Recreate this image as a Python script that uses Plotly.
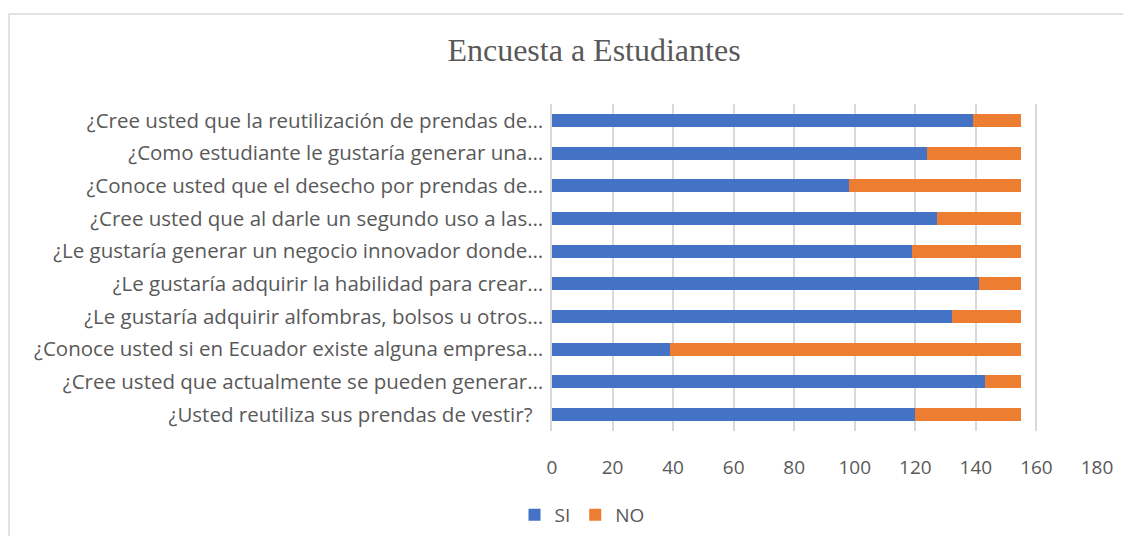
import plotly.graph_objects as go

# Survey questions, listed bottom to top as they appear on the category axis
preguntas = [
    "¿Usted reutiliza sus prendas de vestir?  ",
    "¿Cree usted que actualmente se pueden generar…",
    "¿Conoce usted si en Ecuador existe alguna empresa…",
    "¿Le gustaría adquirir alfombras, bolsos u otros…",
    "¿Le gustaría adquirir la habilidad para crear…",
    "¿Le gustaría generar un negocio innovador donde…",
    "¿Cree usted que al darle un segundo uso a las…",
    "¿Conoce usted que el desecho por prendas de…",
    "¿Como estudiante le gustaría generar una…",
    "¿Cree usted que la reutilización de prendas de…",
]
si = [120, 143, 39, 132, 141, 119, 127, 98, 124, 139]
no = [35, 12, 116, 23, 14, 36, 28, 57, 31, 16]
x_ticks = [0, 20, 40, 60, 80, 100, 120, 140, 160, 180]

BLUE = "#4472C4"
ORANGE = "#ED7D31"
TEXT = "#595959"
GRID = "#D9D9D9"
SANS = "Open Sans, Lato, sans-serif"

# page body keeps its 8px margin, so the figure is sized to fit inside it
W, H = 1115, 528
L, R, T, B = 544, 26, 96, 105
pw, ph = W - L - R, H - T - B

fig = go.Figure()
fig.add_bar(y=preguntas, x=si, name="SI", orientation="h",
            marker=dict(color=BLUE, line=dict(width=0)))
fig.add_bar(y=preguntas, x=no, name="NO", orientation="h",
            marker=dict(color=ORANGE, line=dict(width=0)))

# chart-area frame (only the top and left edges fall inside the window)
fig.add_shape(type="rect", xref="paper", yref="paper",
              x0=(1 - L) / pw, x1=1.2, y0=-0.5, y1=1 + (T - 6) / ph,
              line=dict(color=GRID, width=1.5), layer="below")

fig.update_layout(
    width=W, height=H,
    barmode="stack", bargap=0.6,
    plot_bgcolor="white", paper_bgcolor="white",
    font=dict(family=SANS, size=19, color=TEXT),
    title=dict(text="Encuesta a Estudiantes", x=586 / W, xanchor="center",
               y=1 - 42 / H, yanchor="middle",
               font=dict(family="Liberation Serif, Times New Roman, serif",
                         size=32, color=TEXT)),
    margin=dict(l=L, r=R, t=T, b=B),
    xaxis=dict(range=[0, 180], tickvals=x_ticks, showgrid=True,
               gridcolor=GRID, gridwidth=1.5, zeroline=False,
               showline=False, ticks="", ticklabelstandoff=23,
               automargin=False,
               tickfont=dict(family=SANS, size=19, color=TEXT)),
    yaxis=dict(categoryorder="array", categoryarray=preguntas,
               showgrid=False, zeroline=False, ticks="",
               showline=True, linecolor=GRID, linewidth=1.5,
               ticklabelstandoff=3, automargin=False,
               tickfont=dict(family=SANS, size=20.5, color=TEXT)),
    legend=dict(orientation="h", xref="container", yref="container",
                x=574 / W, xanchor="center",
                y=1 - 507 / H, yanchor="middle", traceorder="normal",
                font=dict(family=SANS, size=19, color=TEXT),
                itemwidth=30, itemsizing="constant"),
    showlegend=True,
)

fig.write_html("out.html")
